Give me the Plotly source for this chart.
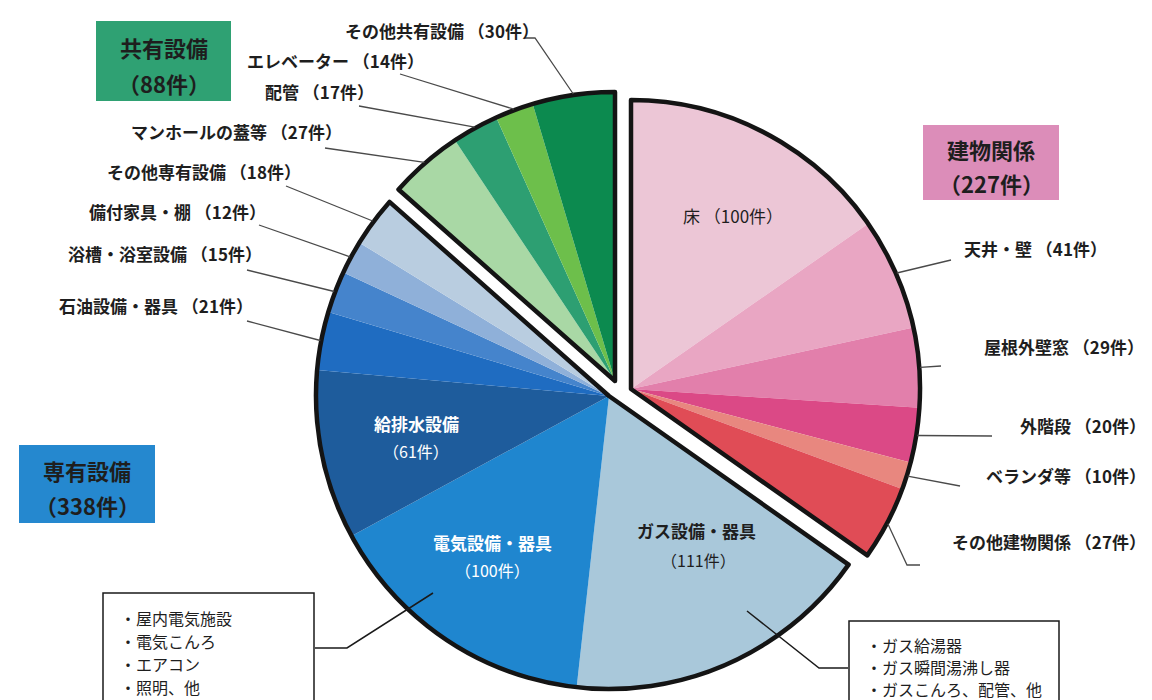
import math
import plotly.graph_objects as go

W, H = 1152, 700

# ---------------- data ----------------
bld_labels = ["床", "天井・壁", "屋根外壁窓", "外階段", "ベランダ等", "その他建物関係"]
bld_values = [100, 41, 29, 20, 10, 27]
exc_labels = ["ガス設備・器具", "電気設備・器具", "給排水設備", "石油設備・器具",
              "浴槽・浴室設備", "備付家具・棚", "その他専有設備"]
exc_values = [111, 100, 61, 21, 15, 12, 18]
com_labels = ["マンホールの蓋等", "配管", "エレベーター", "その他共有設備"]
com_values = [27, 17, 14, 30]
group_names = ["建物関係", "専有設備", "共有設備"]
elec_items = ["・屋内電気施設", "・電気こんろ", "・エアコン", "・照明、他"]
gas_items = ["・ガス給湯器", "・ガス瞬間湯沸し器", "・ガスこんろ、配管、他"]

# ---------------- styles ----------------
bld_colors = ["#ecc6d6", "#e9a6c3", "#e27fab", "#db4986", "#e8877f", "#e04c56"]
exc_colors = ["#a9c8da", "#1f86cf", "#1e5c9c", "#1f6cc1", "#4584cc", "#8fb0d9", "#b9cde0"]
com_colors = ["#a9d8a5", "#2d9f72", "#6dbf4b", "#0c8a4f"]
box_colors = {"建物関係": "#dc8db9", "専有設備": "#2588cf", "共有設備": "#2fa173"}
FONT = "Noto Sans CJK JP"
TXT = "#1e1e1e"

# group geometry (pixel centre, radius)
geom = {
    "建物関係": (623, 381, 289),
    "専有設備": (601, 388, 293),
    "共有設備": (607, 373, 289),
}

groups = [
    ("建物関係", bld_labels, bld_values, bld_colors),
    ("専有設備", exc_labels, exc_values, exc_colors),
    ("共有設備", com_labels, com_values, com_colors),
]
total = sum(bld_values) + sum(exc_values) + sum(com_values)


def dom(cx, cy, r):
    return dict(x=[(cx - r) / W, (cx + r) / W], y=[1 - (cy + r) / H, 1 - (cy - r) / H])


fig = go.Figure()
CLEAR = "rgba(0,0,0,0)"

# slice fills, one pie per group (rest of the circle transparent)
start = 0
mid_pts = {}
for name, labels, values, colors in groups:
    cx, cy, r = geom[name]
    gsum = sum(values)
    rest = total - gsum
    rot = start / total * 360.0
    fig.add_trace(go.Pie(
        values=values + [rest], labels=labels + [name + "_rest"],
        marker=dict(colors=colors + [CLEAR], line=dict(width=0)),
        sort=False, direction="clockwise", rotation=rot,
        domain=dom(cx, cy, r), textinfo="none", showlegend=False,
        hoverinfo="label+value",
    ))
    acc = start
    for lab, v in zip(labels, values):
        ang = math.radians((acc + v / 2) / total * 360.0)
        mid_pts[lab] = (cx + (r + 1) * math.sin(ang), cy - (r + 1) * math.cos(ang))
        acc += v
    start += gsum

# group outlines
start = 0
for name, labels, values, colors in groups:
    cx, cy, r = geom[name]
    gsum = sum(values)
    rot = start / total * 360.0
    fig.add_trace(go.Pie(
        values=[gsum, total - gsum], labels=[name, name + "_other"],
        marker=dict(colors=[CLEAR, CLEAR],
                    line=dict(color=["#141414", CLEAR], width=[4.5, 0])),
        sort=False, direction="clockwise", rotation=rot,
        domain=dom(cx, cy, r), textinfo="none", showlegend=False,
        hoverinfo="skip",
    ))
    start += gsum

shapes = []
annotations = []


def label(text, x, y, size=17, anchor="right", color=TXT, bold=True):
    annotations.append(dict(
        x=x, y=y, xref="x", yref="y", text=("<b>%s</b>" % text) if bold else text,
        showarrow=False, xanchor=anchor, yanchor="middle",
        font=dict(family=FONT, size=size, color=color)))


def path(points, color="#4a4a4a", width=1.3):
    d = "M " + " L ".join("%.1f,%.1f" % p for p in points)
    shapes.append(dict(type="path", path=d, xref="x", yref="y",
                       line=dict(color=color, width=width), layer="above"))


# outside labels: (label, value, text end x, text y, leader line end points)
outside = [
    ("その他共有設備", 30, 533, 22, [(527, 30), (517, 30)]),
    ("エレベーター", 14, 418, 52, [(392, 66)]),
    ("配管", 17, 368, 83, [(351, 98)]),
    ("マンホールの蓋等", 27, 336, 123, [(317, 140)]),
    ("その他専有設備", 18, 295, 163, [(278, 178)]),
    ("備付家具・棚", 12, 260, 203, [(251, 217)]),
    ("浴槽・浴室設備", 15, 256, 245, [(239, 262)]),
    ("石油設備・器具", 21, 247, 297, [(239, 313)]),
    ("天井・壁", 41, 1101, 240, [(943, 252)]),
    ("屋根外壁窓", 29, 1138, 338, [(933, 358)]),
    ("外階段", 20, 1140, 417, [(984, 428)]),
    ("ベランダ等", 10, 1140, 467, [(952, 478)]),
    ("その他建物関係", 27, 1140, 533, [(899, 557), (912, 557)]),
]
for lab, v, tx, ty, pts in outside:
    label("%s （%d件）" % (lab, v), tx, ty, size=17, anchor="right")
    path([mid_pts[lab]] + pts)

# inside labels
label("床 （%d件）" % bld_values[0], 725, 207, size=17, anchor="center", bold=False)
label("ガス設備・器具", 688, 522, size=17, anchor="center")
label("（%d件）" % exc_values[0], 690, 552, size=16, anchor="center", bold=False)
label("電気設備・器具", 484, 534, size=17, anchor="center", color="white")
label("（%d件）" % exc_values[1], 484, 562, size=16, anchor="center", color="white", bold=False)
label("給排水設備", 408, 415, size=17, anchor="center", color="white")
label("（%d件）" % exc_values[2], 408, 443, size=16, anchor="center", color="white", bold=False)

# group boxes
boxes = {
    "共有設備": (88, 13, 223, 93),
    "建物関係": (915, 117, 1051, 192),
    "専有設備": (11, 437, 147, 515),
}
for (name, labels, values, colors) in groups:
    x0, y0, x1, y1 = boxes[name]
    shapes.append(dict(type="rect", x0=x0, y0=y0, x1=x1, y1=y1, xref="x", yref="y",
                       fillcolor=box_colors[name], line=dict(width=0), layer="below"))
    xc = (x0 + x1) / 2
    label(name, xc, y0 + 0.32 * (y1 - y0), size=22, anchor="center")
    label("（%d件）" % sum(values), xc, y0 + 0.77 * (y1 - y0), size=22, anchor="center")

# callout boxes
shapes.append(dict(type="rect", x0=95, y0=585, x1=306, y1=698, xref="x", yref="y",
                   fillcolor="white", line=dict(color="#1a1a1a", width=1.5), layer="above"))
for i, t in enumerate(elec_items):
    label(t, 110, 610 + i * 23, size=16, anchor="left", bold=False)
path([(425, 585), (339, 640), (307, 640)], color="#1a1a1a", width=1.5)

shapes.append(dict(type="rect", x0=841, y0=613, x1=1051, y1=712, xref="x", yref="y",
                   fillcolor="white", line=dict(color="#1a1a1a", width=1.5), layer="above"))
for i, t in enumerate(gas_items):
    label(t, 856, 637 + i * 22, size=16, anchor="left", bold=False)
path([(739, 603), (811, 660), (840, 660)], color="#1a1a1a", width=1.5)

fig.update_layout(
    width=W, height=H, margin=dict(l=0, r=0, t=0, b=0),
    paper_bgcolor="white", plot_bgcolor="rgba(0,0,0,0)",
    xaxis=dict(range=[0, W], visible=False, fixedrange=True),
    yaxis=dict(range=[H, 0], visible=False, fixedrange=True),
    shapes=shapes, annotations=annotations, showlegend=False,
    font=dict(family=FONT),
)

fig.write_html("out.html")
